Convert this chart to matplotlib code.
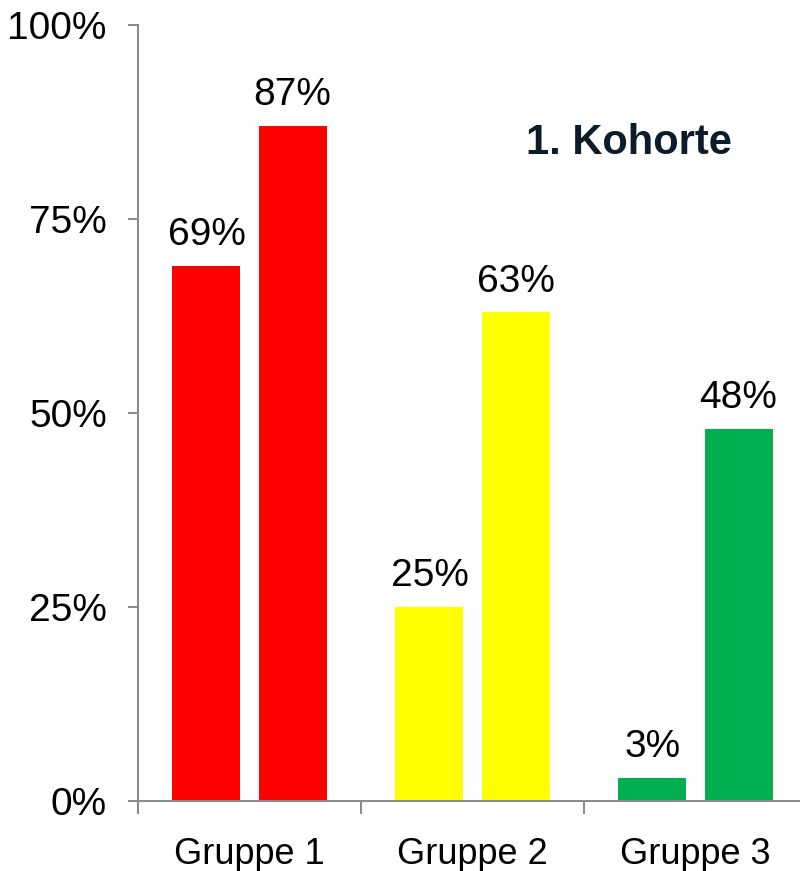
import numpy as np
import matplotlib
matplotlib.use("Agg")
import matplotlib.pyplot as plt
from matplotlib.ticker import FuncFormatter

groups = ["Gruppe 1", "Gruppe 2", "Gruppe 3"]
first = [69, 25, 3]
second = [87, 63, 48]
colors = ["#FF0000", "#FFFF00", "#00B050"]
yticks = [0, 25, 50, 75, 100]

plt.rcParams['font.family'] = ['Liberation Sans', 'DejaVu Sans']

fig = plt.figure(figsize=(8, 8.71), dpi=100)
ax = fig.add_axes([138/800, 70/871, 662/800, 776/871])

x = np.arange(len(groups))
w = 0.305
off = 0.193
b1 = ax.bar(x - off, first, w, color=colors)
b2 = ax.bar(x + off, second, w, color=colors)

for bars, vals in ((b1, first), (b2, second)):
    for bar, v in zip(bars, vals):
        ax.annotate(f"{v}%", (bar.get_x() + bar.get_width()/2, v),
                    xytext=(0, 9), textcoords="offset points",
                    ha="center", va="bottom", fontsize=28)

ax.set_xlim(-0.5, -0.5 + 662/223)
ax.set_ylim(0, 100)
ax.set_yticks(yticks)
ax.yaxis.set_major_formatter(FuncFormatter(lambda v, p: f"{v:.0f}%"))
ax.tick_params(axis='y', labelsize=28, length=7.5, width=1.5, color="#8c8c8c", pad=15)

# category boundaries as x ticks, labels centred between them
ax.set_xticks([-0.5, 0.5, 1.5])
ax.set_xticklabels([])
ax.set_xticks(x, minor=True)
ax.set_xticklabels(groups, minor=True)
ax.tick_params(axis='x', which='major', length=9, width=1.5, color="#8c8c8c")
ax.tick_params(axis='x', which='minor', length=0, labelsize=26, pad=26)

for s in ("top", "right"):
    ax.spines[s].set_visible(False)
for s in ("left", "bottom"):
    ax.spines[s].set_color("#8c8c8c")
    ax.spines[s].set_linewidth(1.5)

ax.text(0.742, 0.848, "1. Kohorte", transform=ax.transAxes, fontsize=30,
        fontweight="bold", color="#0d1b2a", ha="center", va="center")

fig.savefig("out.png", dpi=100)
